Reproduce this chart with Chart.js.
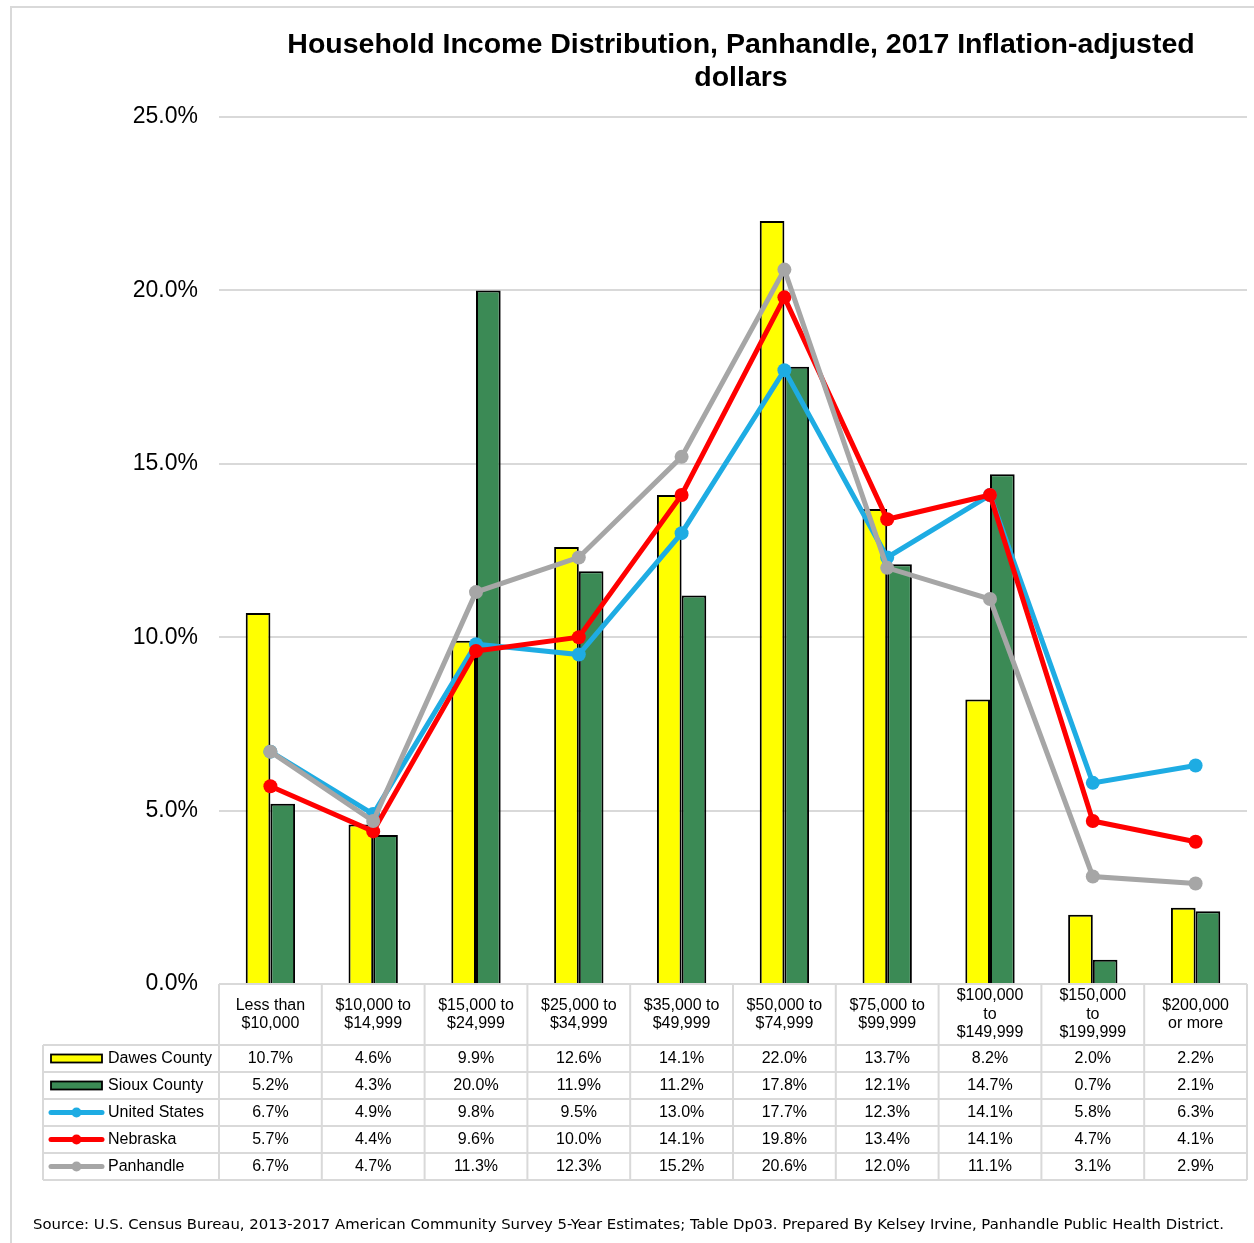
<!DOCTYPE html>
<html>
<head>
<meta charset="utf-8">
<script src="https://cdn.jsdelivr.net/npm/chart.js@4.4.1/dist/chart.umd.min.js"></script>
<style>
html,body{margin:0;padding:0;background:#fff;}
#wrap{width:1254px;height:1243px;position:relative;}
</style>
</head>
<body>
<div id="wrap"><canvas id="c" width="1254" height="1243"></canvas></div>
<script>
const categories = [
  ["Less than", "$10,000"],
  ["$10,000 to", "$14,999"],
  ["$15,000 to", "$24,999"],
  ["$25,000 to", "$34,999"],
  ["$35,000 to", "$49,999"],
  ["$50,000 to", "$74,999"],
  ["$75,000 to", "$99,999"],
  ["$100,000", "to", "$149,999"],
  ["$150,000", "to", "$199,999"],
  ["$200,000", "or more"]
];
const dawesCounty   = [10.7, 4.6, 9.9, 12.6, 14.1, 22.0, 13.7, 8.2, 2.0, 2.2];
const siouxCounty   = [5.2, 4.3, 20.0, 11.9, 11.2, 17.8, 12.1, 14.7, 0.7, 2.1];
const unitedStates  = [6.7, 4.9, 9.8, 9.5, 13.0, 17.7, 12.3, 14.1, 5.8, 6.3];
const nebraska      = [5.7, 4.4, 9.6, 10.0, 14.1, 19.8, 13.4, 14.1, 4.7, 4.1];
const panhandle     = [6.7, 4.7, 11.3, 12.3, 15.2, 20.6, 12.0, 11.1, 3.1, 2.9];
const yTicks = [0, 5, 10, 15, 20, 25];
const titleLines = ["Household Income Distribution, Panhandle, 2017 Inflation-adjusted", "dollars"];
const sourceText = "Source: U.S. Census Bureau, 2013-2017 American Community Survey 5-Year Estimates; Table Dp03. Prepared By Kelsey Irvine, Panhandle Public Health District.";

const FONT = '"Liberation Sans", Arial, sans-serif';
const GRID = '#D9D9D9';

const seriesInfo = [
  {name: 'Dawes County', type: 'bar', color: '#FFFF00', data: dawesCounty},
  {name: 'Sioux County', type: 'bar', color: '#3B8A55', data: siouxCounty},
  {name: 'United States', type: 'line', color: '#1EACE3', data: unitedStates},
  {name: 'Nebraska', type: 'line', color: '#FF0000', data: nebraska},
  {name: 'Panhandle', type: 'line', color: '#A6A6A6', data: panhandle}
];

const frame = {
  id: 'frame',
  beforeDraw(chart) {
    const ctx = chart.ctx;
    ctx.save();
    ctx.fillStyle = '#fff';
    ctx.fillRect(0, 0, chart.width, chart.height);
    ctx.strokeStyle = GRID;
    ctx.lineWidth = 2;
    ctx.strokeRect(11, 7, 1300, 1300);
    ctx.restore();
  }
};

const tablePlugin = {
  id: 'tablePlugin',
  afterDraw(chart) {
    const ctx = chart.ctx;
    const xs = chart.scales.x;
    const area = chart.chartArea;
    const n = categories.length;
    const cw = (area.right - area.left) / n;
    const top = area.bottom;
    const headerBottom = top + 61;
    const rowH = 27;
    const legendLeft = 43;
    const tableBottom = headerBottom + rowH * seriesInfo.length;
    ctx.save();
    // Title
    ctx.fillStyle = '#000';
    ctx.textAlign = 'center';
    ctx.textBaseline = 'middle';
    ctx.font = 'bold 28.5px ' + FONT;
    ctx.fillText(titleLines[0], 741, 45);
    ctx.fillText(titleLines[1], 741, 78);

    // grid lines of table
    ctx.strokeStyle = GRID;
    ctx.lineWidth = 2;
    ctx.beginPath();
    ctx.moveTo(area.left, top); ctx.lineTo(area.right, top);
    for (let r = 0; r <= seriesInfo.length; r++) {
      const y = headerBottom + r * rowH;
      ctx.moveTo(legendLeft, y); ctx.lineTo(area.right, y);
    }
    for (let i = 0; i <= n; i++) {
      const x = area.left + i * cw;
      ctx.moveTo(x, top); ctx.lineTo(x, tableBottom);
    }
    ctx.moveTo(legendLeft, headerBottom); ctx.lineTo(legendLeft, tableBottom);
    ctx.stroke();

    // header labels
    ctx.fillStyle = '#000';
    ctx.font = '16px ' + FONT;
    ctx.textAlign = 'center';
    const lh = 18.5;
    const hc = (top + headerBottom) / 2;
    categories.forEach((lab, i) => {
      const cx = xs.getPixelForValue(i);
      const y0 = hc - (lab.length - 1) * lh / 2;
      lab.forEach((t, k) => ctx.fillText(t, cx, y0 + k * lh));
    });

    // rows
    seriesInfo.forEach((s, r) => {
      const cy = headerBottom + r * rowH + rowH / 2;
      if (s.type === 'bar') {
        ctx.fillStyle = s.color;
        ctx.fillRect(51, cy - 4, 51, 8);
        ctx.strokeStyle = '#000';
        ctx.lineWidth = 1.8;
        ctx.strokeRect(51, cy - 4, 51, 8);
      } else {
        ctx.strokeStyle = s.color;
        ctx.lineWidth = 5;
        ctx.lineCap = 'round';
        ctx.beginPath();
        ctx.moveTo(51, cy); ctx.lineTo(102, cy);
        ctx.stroke();
        ctx.fillStyle = s.color;
        ctx.beginPath();
        ctx.arc(76.5, cy, 5, 0, Math.PI * 2);
        ctx.fill();
      }
      ctx.fillStyle = '#000';
      ctx.textAlign = 'left';
      ctx.fillText(s.name, 108, cy);
      ctx.textAlign = 'center';
      s.data.forEach((v, i) => {
        ctx.fillText(v.toFixed(1) + '%', xs.getPixelForValue(i), cy);
      });
    });

    // source
    ctx.textAlign = 'left';
    ctx.font = '100px "DejaVu Sans", sans-serif';
    const w100 = ctx.measureText(sourceText).width;
    const fs = 100 * 1192 / w100;
    ctx.font = fs.toFixed(2) + 'px "DejaVu Sans", sans-serif';
    ctx.fillText(sourceText, 33, 1225);
    ctx.restore();
  }
};

const datasets = seriesInfo.map((s, idx) => {
  if (s.type === 'bar') {
    return {
      type: 'bar', label: s.name, data: s.data,
      backgroundColor: s.color, borderColor: '#000', borderWidth: 2,
      categoryPercentage: 0.48, barPercentage: 1.0, order: 10 + idx
    };
  }
  return {
    type: 'line', label: s.name, data: s.data,
    borderColor: s.color, backgroundColor: s.color, borderWidth: 5,
    pointRadius: 7, pointHoverRadius: 7, pointBackgroundColor: s.color,
    pointBorderColor: s.color, pointBorderWidth: 0, tension: 0, fill: false,
    order: 10 - idx
  };
});

new Chart(document.getElementById('c'), {
  data: { labels: categories.map(c => c.join(' ')), datasets },
  options: {
    responsive: false,
    animation: false,
    devicePixelRatio: 1,
    layout: { padding: { top: 117, right: 4, left: 0, bottom: 0 } },
    plugins: { legend: { display: false }, title: { display: false }, tooltip: { enabled: false } },
    scales: {
      x: {
        offset: true,
        grid: { display: false },
        border: { display: false },
        ticks: { display: false },
        afterFit(scale) { scale.height = 1243 - 984; }
      },
      y: {
        min: 0, max: 25,
        afterBuildTicks(scale) { scale.ticks = yTicks.map(v => ({ value: v })); },
        grid: { color: GRID, lineWidth: 2, drawTicks: false },
        border: { display: false },
        ticks: {
          padding: 21,
          color: '#000',
          font: { family: FONT, size: 23 },
          callback: v => v.toFixed(1) + '%'
        },
        afterFit(scale) { scale.width = 219; }
      }
    }
  },
  plugins: [frame, tablePlugin]
});
</script>
</body>
</html>
